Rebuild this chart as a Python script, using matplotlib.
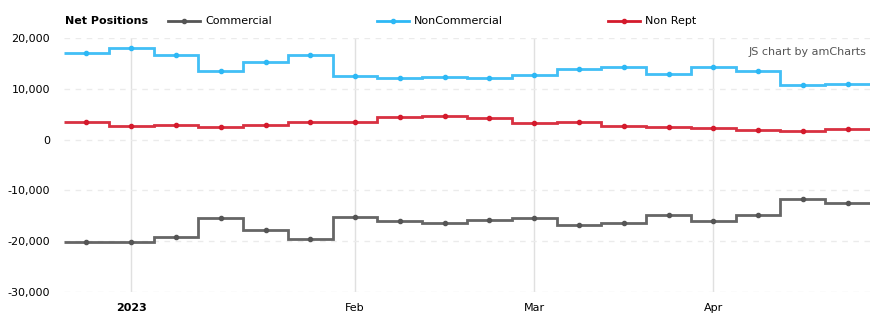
import numpy as np
import matplotlib
matplotlib.use('Agg')
import matplotlib.pyplot as plt
from matplotlib.lines import Line2D
from matplotlib.ticker import FuncFormatter

# weekly net positions, Dec 27 2022 .. Apr 25 2023
weeks = ['2022-12-27', '2023-01-03', '2023-01-10', '2023-01-17', '2023-01-24', '2023-01-31',
         '2023-02-07', '2023-02-14', '2023-02-21', '2023-02-28', '2023-03-07', '2023-03-14',
         '2023-03-21', '2023-03-28', '2023-04-04', '2023-04-11', '2023-04-18', '2023-04-25']
commercial = [-20060, -20060, -19270, -15520, -17890, -19660, -15330, -16110, -16510,
              -15920, -15520, -16900, -16510, -14930, -16110, -14930, -11780, -12560]
noncommercial = [17020, 18010, 16630, 13550, 15250, 16630, 12430, 12100, 12260,
                 12100, 12760, 13870, 14270, 12890, 14270, 13550, 10710, 10910]
nonrept = [3420, 2630, 2830, 2430, 2830, 3420, 3420, 4400, 4670,
           4200, 3220, 3420, 2630, 2430, 2230, 1840, 1640, 2030]

month_ticks = [1, 6, 10, 14]
month_labels = ['2023', 'Feb', 'Mar', 'Apr']

series = [('Commercial', commercial, '#555555'),
          ('NonCommercial', noncommercial, '#2db8f5'),
          ('Non Rept', nonrept, '#d41a2c')]

plt.rcParams['font.family'] = ['DejaVu Sans']

W, H = 886, 326
fig = plt.figure(figsize=(W / 100, H / 100), dpi=100)
ax = fig.add_axes([64 / W, (H - 292) / H, (870 - 64) / W, (292 - 38) / H])

n = len(weeks)
x = np.arange(n)
edges = np.arange(n + 1) - 0.5

for name, vals, col in series:
    ax.stairs(vals, edges, baseline=None, color=col, lw=2, alpha=0.9, zorder=3)
    ax.plot(x, vals, 'o', color=col, ms=3, zorder=4)

ax.set_xlim(-0.5, n - 0.5)
ax.set_ylim(-30000, 20000)
ax.set_yticks(np.arange(-30000, 20001, 10000))
ax.yaxis.set_major_formatter(FuncFormatter(lambda v, p: f'{int(v):,}'))
ax.set_xticks(month_ticks)
ax.set_xticklabels(month_labels)
ax.get_xticklabels()[0].set_fontweight('bold')

ax.grid(axis='y', color='#ebebeb', ls=(0, (4, 4)), lw=1)
for t in month_ticks:
    ax.axvline(t, color='#e0e0e0', lw=1, zorder=1)

for s in ax.spines.values():
    s.set_visible(False)
ax.tick_params(length=0, labelsize=8, colors='#000000')
ax.tick_params(axis='y', pad=10)
ax.tick_params(axis='x', pad=8)

# legend row
fig.text(65 / W, 1 - 21 / H, 'Net Positions', fontsize=8, fontweight='bold', va='center')
leg_x = [168, 377, 608]
for (name, vals, col), lx in zip(series, leg_x):
    fig.add_artist(Line2D([lx / W, (lx + 32) / W], [1 - 21 / H] * 2, color=col, lw=2,
                          transform=fig.transFigure))
    fig.add_artist(Line2D([(lx + 16) / W], [1 - 21 / H], color=col, marker='o', ms=3,
                          transform=fig.transFigure))
    fig.text((lx + 37) / W, 1 - 21 / H, name, fontsize=8, va='center')

fig.text(866 / W, 1 - 52 / H, 'JS chart by amCharts', fontsize=8, color='#555555',
         ha='right', va='center')

fig.savefig('out.png', dpi=100)
